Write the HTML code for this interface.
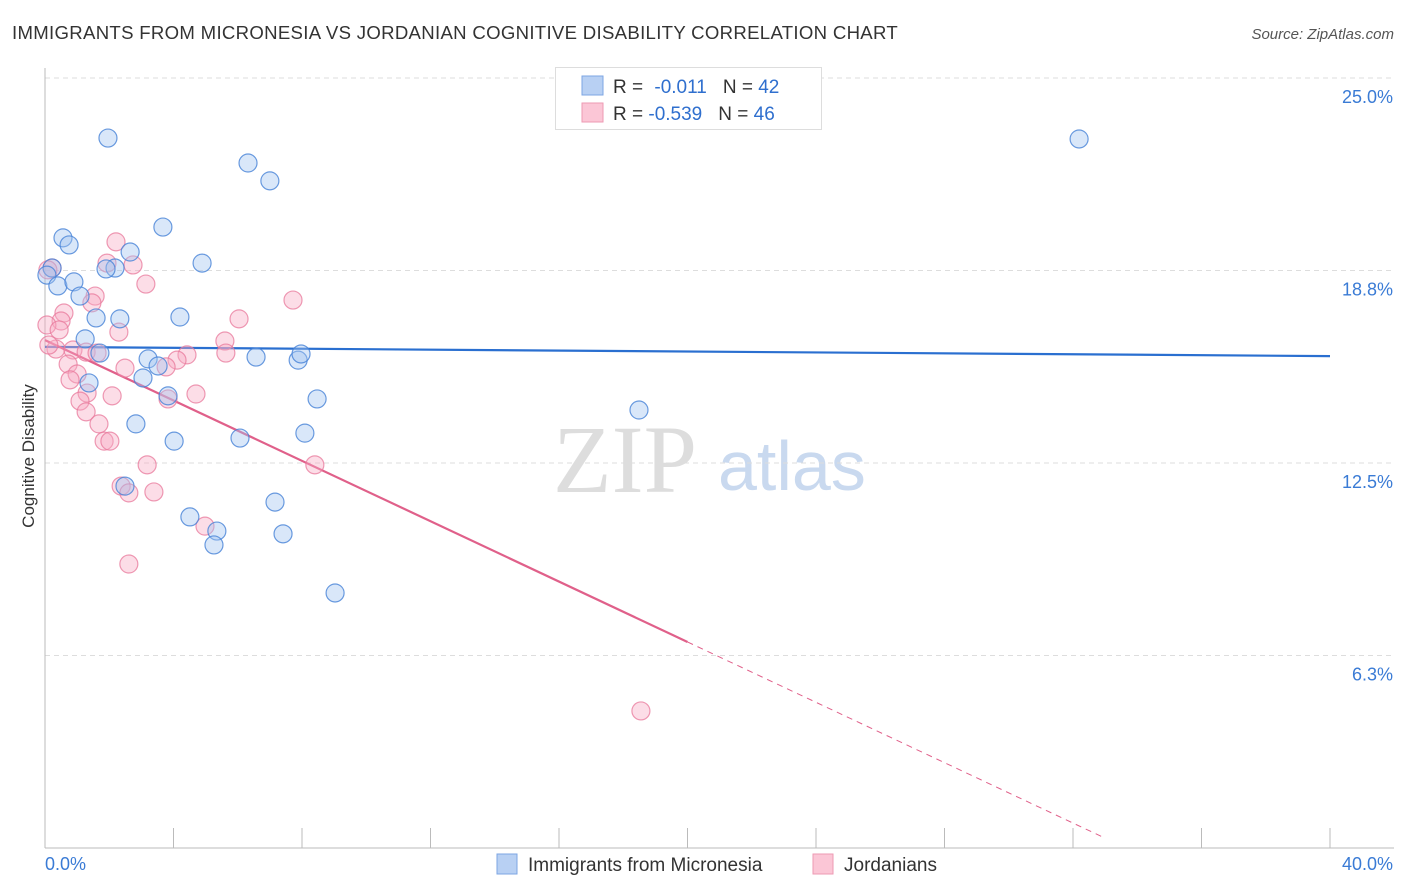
<!DOCTYPE html>
<html><head><meta charset="utf-8">
<style>
body{margin:0;background:#fff;font-family:"Liberation Sans",sans-serif;}
svg{display:block}
</style></head>
<body>
<svg id="chart" width="1406" height="892" xmlns="http://www.w3.org/2000/svg">
<text x="12" y="39" font-size="18.6" letter-spacing="0.3" fill="#333">IMMIGRANTS FROM MICRONESIA VS JORDANIAN COGNITIVE DISABILITY CORRELATION CHART</text>
<text x="1394" y="39" font-size="15" fill="#555" text-anchor="end" font-style="italic">Source: ZipAtlas.com</text>
<text transform="translate(34,456) rotate(-90)" font-size="17" fill="#333" text-anchor="middle">Cognitive Disability</text>
<text x="553" y="492" font-size="96" fill="#ddd" font-family="Liberation Serif,serif">ZIP</text>
<text x="718" y="490" font-size="70" fill="#c9d9ef">atlas</text>
<g id="grid"></g><g id="axes"></g><g id="trend"></g><g id="pts"></g>
<g>
<rect x="555.5" y="67.5" width="266" height="62" fill="#fff" stroke="#ddd"/>
<rect x="582" y="76" width="21" height="19" fill="#b8d0f3" stroke="#7da6e3"/>
<rect x="582" y="103" width="21" height="19" fill="#fbc6d6" stroke="#ee9ab3"/>
<text x="613" y="93" font-size="19" fill="#333">R = <tspan fill="#2f6fce" dx="6">-0.011</tspan><tspan dx="16" fill="#333">N = </tspan><tspan fill="#2f6fce">42</tspan></text>
<text x="613" y="120" font-size="19" fill="#333">R = <tspan fill="#2f6fce">-0.539</tspan><tspan dx="16" fill="#333">N = </tspan><tspan fill="#2f6fce">46</tspan></text>
</g>
<g>
<rect x="497" y="854" width="20" height="20" fill="#b8d0f3" stroke="#7da6e3"/>
<text x="528" y="871" font-size="19" fill="#333">Immigrants from Micronesia</text>
<rect x="813" y="854" width="20" height="20" fill="#fbc6d6" stroke="#ee9ab3"/>
<text x="844" y="871" font-size="19" fill="#333">Jordanians</text>
</g>
</svg>
<script>
const yTicks=[25,18.75,12.5,6.25];
const yTickLabels=["25.0%","18.8%","12.5%","6.3%"];
const xTickCount=10;
const blueX=[1.96,6.32,7.00,3.67,0.56,0.75,2.65,4.89,2.18,1.90,0.22,0.06,0.40,0.90,1.09,1.59,2.33,4.20,1.25,1.71,3.21,3.52,3.05,1.37,3.83,8.47,2.83,8.09,4.02,6.07,6.57,7.88,7.97,7.16,4.51,5.35,5.26,7.41,2.49,9.03,32.19,18.49];
const blueY=[23.05,22.24,21.66,20.16,19.81,19.58,19.35,18.99,18.83,18.80,18.83,18.60,18.25,18.38,17.92,17.21,17.18,17.24,16.53,16.07,15.88,15.65,15.26,15.10,14.68,14.58,13.77,13.47,13.21,13.31,15.94,15.84,16.04,11.23,10.75,10.29,9.84,10.20,11.75,8.28,23.02,14.22];
const pinkX=[0.22,0.09,2.21,1.93,2.74,3.14,1.56,1.46,7.72,0.59,0.50,0.06,0.44,2.30,6.04,5.60,0.34,0.87,1.28,5.63,4.42,4.11,3.77,2.49,0.72,1.00,0.78,1.31,2.09,4.70,3.83,1.09,1.28,1.68,1.84,2.02,3.18,8.40,2.37,2.61,3.39,4.98,2.61,18.55,0.12,1.62];
const pinkY=[18.83,18.77,19.68,18.99,18.93,18.31,17.92,17.70,17.79,17.37,17.11,16.98,16.82,16.75,17.18,16.46,16.20,16.17,16.10,16.07,16.01,15.84,15.62,15.58,15.71,15.39,15.20,14.77,14.68,14.74,14.58,14.51,14.16,13.77,13.21,13.21,12.44,12.44,11.75,11.53,11.56,10.45,9.22,4.45,16.33,16.07];
const blueTrend=[16.27,15.97];
const pinkTrend=[16.49,-0.490];
const pinkSolidEnd=20, pinkDashEnd=33;
const NS="http://www.w3.org/2000/svg";
const X0=45,X1=1330,XMAX=40,YB=848,YT=78,YMAX=25;
const sx=v=>X0+v/XMAX*(X1-X0);
const sy=v=>YB-v/YMAX*(YB-YT);
function mk(tag,attrs,parent){const e=document.createElementNS(NS,tag);for(const k in attrs)e.setAttribute(k,attrs[k]);parent.appendChild(e);return e;}
const grid=document.getElementById('grid'),axes=document.getElementById('axes'),trend=document.getElementById('trend'),pts=document.getElementById('pts');
yTicks.forEach((t,i)=>{
 const l=mk('line',{x1:X0,x2:1394,y1:sy(t),y2:sy(t),stroke:'#ddd','stroke-dasharray':'5,4'},grid);
 
 
 const tx=mk('text',{x:1393,y:sy(t)+25,'font-size':18,fill:'#3a7bd5','text-anchor':'end'},axes);
 tx.textContent=yTickLabels[i];
 
 
});
const ya=mk('line',{x1:X0,x2:X0,y1:68,y2:YB,stroke:'#bbb'},axes);


const xa=mk('line',{x1:X0,x2:1394,y1:YB,y2:YB,stroke:'#bbb'},axes);


for(let i=0;i<=xTickCount;i++){
 const v=i*XMAX/xTickCount;
 const t=mk('line',{x1:sx(v),x2:sx(v),y1:828,y2:YB,stroke:'#bbb'},axes);
 
 
}
const xl0=mk('text',{x:45,y:870,'font-size':18,fill:'#3a7bd5'},axes);xl0.textContent='0.0%';


const xl1=mk('text',{x:1393,y:870,'font-size':18,fill:'#3a7bd5','text-anchor':'end'},axes);xl1.textContent='40.0%';


function dot(x,y,fill,stroke,name){
 const c=mk('circle',{cx:sx(x),cy:sy(y),r:9,fill:fill,stroke:stroke,'stroke-width':1.2},pts);
 
 
}
pinkX.forEach((x,i)=>dot(x,pinkY[i],'rgba(248,170,195,0.4)','rgba(232,120,155,0.75)','jordanians-point'));
blueX.forEach((x,i)=>dot(x,blueY[i],'rgba(160,195,240,0.4)','rgba(70,130,215,0.8)','micronesia-point'));
const bl=mk('line',{x1:sx(0),y1:sy(blueTrend[0]),x2:sx(40),y2:sy(blueTrend[1]),stroke:'#2a6fd0','stroke-width':2.2},trend);


const pf=x=>pinkTrend[0]+pinkTrend[1]*x;
const pl=mk('line',{x1:sx(0),y1:sy(pf(0)),x2:sx(pinkSolidEnd),y2:sy(pf(pinkSolidEnd)),stroke:'#e0608a','stroke-width':2.2},trend);


const pd=mk('line',{x1:sx(pinkSolidEnd),y1:sy(pf(pinkSolidEnd)),x2:sx(pinkDashEnd),y2:sy(pf(pinkDashEnd)),stroke:'#e0608a','stroke-width':1,'stroke-dasharray':'6,5'},trend);


</script>
</body></html>
